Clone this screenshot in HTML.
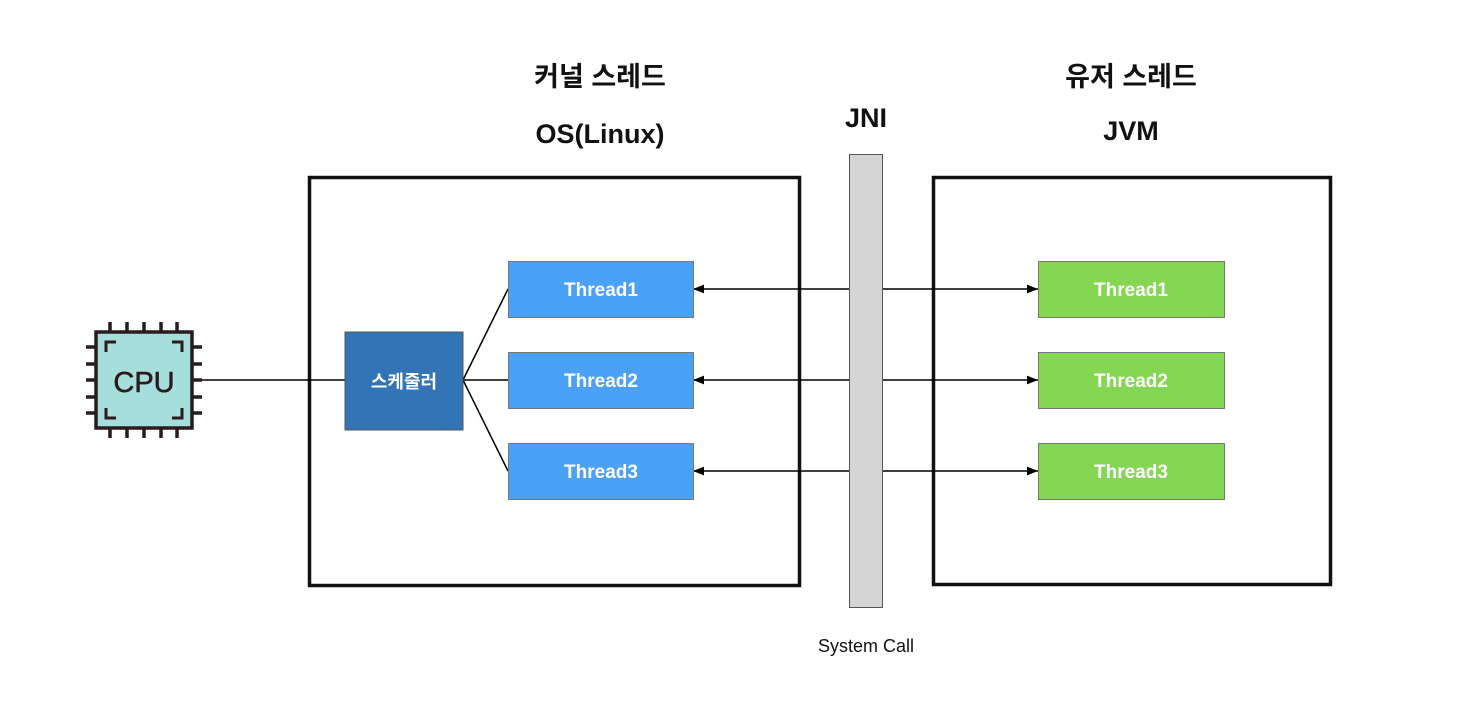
<!DOCTYPE html>
<html><head><meta charset="utf-8"><style>
body{margin:0;background:#fff;}
svg text{font-family:"Liberation Sans","Noto Sans CJK KR",sans-serif;}
</style></head><body>
<svg width="1466" height="696" xmlns="http://www.w3.org/2000/svg">
<defs>
<marker id="a" viewBox="0 0 10 10" refX="10" refY="5" markerWidth="11" markerHeight="11" markerUnits="userSpaceOnUse" orient="auto-start-reverse"><path d="M0,1 L10,5 L0,9 Z" fill="#000"/></marker>
</defs>
<rect width="1466" height="696" fill="#fff"/>
<g font-weight="bold" font-size="27" text-anchor="middle" fill="#111">
<text x="600" y="86">커널 스레드</text>
<text x="600" y="143">OS(Linux)</text>
<text x="866" y="127">JNI</text>
<text x="1131" y="86">유저 스레드</text>
<text x="1131" y="140">JVM</text>
</g>
<rect x="309.5" y="177.5" width="490" height="408" fill="none" stroke="#111" stroke-width="3.5"/>
<rect x="933.5" y="177.5" width="397" height="407" fill="none" stroke="#111" stroke-width="3.5"/>
<line x1="200" y1="380" x2="345" y2="380" stroke="#000" stroke-width="1.5"/>
<g stroke="#000" stroke-width="1.5">
<line x1="463" y1="380" x2="508" y2="289"/>
<line x1="463" y1="380" x2="508" y2="380"/>
<line x1="463" y1="380" x2="508" y2="471"/>
<line x1="693" y1="289" x2="1038" y2="289" marker-start="url(#a)" marker-end="url(#a)"/>
<line x1="693" y1="380" x2="1038" y2="380" marker-start="url(#a)" marker-end="url(#a)"/>
<line x1="693" y1="471" x2="1038" y2="471" marker-start="url(#a)" marker-end="url(#a)"/>
</g>
<rect x="849.5" y="154.5" width="33" height="453" fill="#d5d5d5" stroke="#555" stroke-width="1"/>
<rect x="345" y="332" width="118" height="98" fill="#3374b6" stroke="#555" stroke-width="1"/>
<text x="404" y="388" text-anchor="middle" font-size="18" font-weight="bold" fill="#fff">스케줄러</text>
<g stroke="#777" stroke-width="1">
<rect x="508.5" y="261.5" width="185" height="56" fill="#4aa1f6"/>
<rect x="508.5" y="352.5" width="185" height="56" fill="#4aa1f6"/>
<rect x="508.5" y="443.5" width="185" height="56" fill="#4aa1f6"/>
<rect x="1038.5" y="261.5" width="186" height="56" fill="#84d653"/>
<rect x="1038.5" y="352.5" width="186" height="56" fill="#84d653"/>
<rect x="1038.5" y="443.5" width="186" height="56" fill="#84d653"/>
</g>
<g font-size="19" font-weight="bold" fill="#fff" text-anchor="middle">
<text x="601" y="296">Thread1</text>
<text x="601" y="387">Thread2</text>
<text x="601" y="478">Thread3</text>
<text x="1131" y="296">Thread1</text>
<text x="1131" y="387">Thread2</text>
<text x="1131" y="478">Thread3</text>
</g>
<g stroke="#2a1c1e" stroke-width="3.5" fill="none">
<rect x="96" y="332" width="96" height="96" fill="#a6dedb"/>
<path d="M110,322v10M127,322v10M144,322v10M161,322v10M177,322v10M110,428v10M127,428v10M144,428v10M161,428v10M177,428v10M86,347h10M86,364h10M86,380h10M86,397h10M86,413h10M192,347h10M192,364h10M192,380h10M192,397h10M192,413h10"/>
<path d="M106,352v-10h10M182,352v-10h-10M106,408v10h10M182,408v10h-10" stroke-width="3"/>
</g>
<text x="144" y="392" text-anchor="middle" font-size="29" fill="#2a1c1e" stroke="#2a1c1e" stroke-width="0.6">CPU</text>
<text x="866" y="652" text-anchor="middle" font-size="18" fill="#111">System Call</text>
</svg>
</body></html>
